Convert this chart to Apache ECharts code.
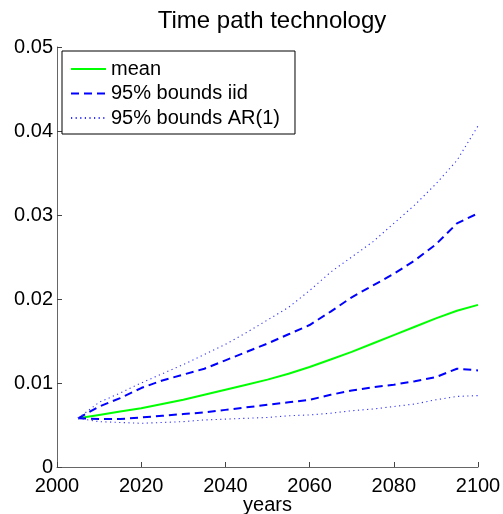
<!DOCTYPE html>
<html>
<head>
<meta charset="utf-8">
<script src="https://cdn.jsdelivr.net/npm/echarts@6/dist/echarts.min.js"></script>
<style>
  html, body { margin: 0; padding: 0; background: #fff; }
  #chart { width: 503px; height: 514px; }
</style>
</head>
<body>
<div id="chart"></div>
<script>
// Simulated technology level, five-year steps
const years = [2005, 2010, 2015, 2020, 2025, 2030, 2035, 2040, 2045, 2050,
               2055, 2060, 2065, 2070, 2075, 2080, 2085, 2090, 2095, 2100];

const meanPath = [0.0058, 0.0062, 0.0066, 0.0070, 0.0075, 0.0080, 0.0086, 0.0092, 0.0098, 0.0104,
                  0.0111, 0.0119, 0.0128, 0.0137, 0.0147, 0.0157, 0.0167, 0.0177, 0.0186, 0.0193];

const iidUpper = [0.0058, 0.0072, 0.0082, 0.0094, 0.0103, 0.0110, 0.0117, 0.0127, 0.0137, 0.0147,
                  0.0158, 0.0169, 0.0185, 0.0202, 0.0216, 0.0230, 0.0246, 0.0265, 0.0290, 0.0302];
const iidLower = [0.0058, 0.0057, 0.0057, 0.0059, 0.0061, 0.0063, 0.0065, 0.0068, 0.0071, 0.0074,
                  0.0077, 0.0080, 0.0086, 0.0091, 0.0095, 0.0098, 0.0102, 0.0107, 0.0117, 0.0115];

const arUpper = [0.0058, 0.0077, 0.0088, 0.0100, 0.0111, 0.0122, 0.0134, 0.0146, 0.0160, 0.0175,
                 0.0190, 0.0210, 0.0232, 0.0250, 0.0268, 0.0290, 0.0312, 0.0337, 0.0365, 0.0406];
const arLower = [0.0058, 0.0054, 0.0053, 0.0052, 0.0053, 0.0054, 0.0056, 0.0057, 0.0058, 0.0059,
                 0.0061, 0.0062, 0.0064, 0.0067, 0.0069, 0.0072, 0.0075, 0.0080, 0.0084, 0.0085];

const xTicks = { min: 2000, max: 2100, step: 20 };
const yTicks = { min: 0, max: 0.05, step: 0.01 };

const seriesNames = ['mean', '95% bounds iid', '95% bounds AR(1)'];

const FONT = '"Liberation Sans", Arial, Helvetica, sans-serif';
const pairs = arr => years.map((y, i) => [y, arr[i]]);

const meanStyle = { color: '#00ff00', width: 2, type: 'solid' };
const iidStyle  = { color: '#0000ff', width: 2, type: [8, 5] };
const arStyle   = { color: '#3333ff', width: 1.1, type: [1.2, 3.4] };

function line(name, data, style) {
  return {
    name, type: 'line', data: pairs(data),
    symbol: 'none', smooth: false, silent: true,
    lineStyle: style, itemStyle: { color: style.color },
    emphasis: { disabled: true }
  };
}

const chart = echarts.init(document.getElementById('chart'), null, { renderer: 'canvas' });

chart.setOption({
  backgroundColor: '#ffffff',
  animation: false,
  title: {
    text: 'Time path technology',
    left: 267, textAlign: 'center', top: 4,
    textStyle: { fontFamily: FONT, fontSize: 24, fontWeight: 'normal', color: '#000' }
  },
  grid: { left: 57, right: 25, top: 47, bottom: 47, containLabel: false, outerBoundsMode: 'none' },
  legend: {
    data: seriesNames,
    orient: 'vertical',
    left: 62, top: 51,
    padding: [7, 15, 5, 8],
    itemWidth: 35, itemHeight: 14, itemGap: 2.5,
    borderColor: '#000', borderWidth: 1,
    backgroundColor: '#fff',
    selectedMode: false,
    itemStyle: { opacity: 0 },
    textStyle: { fontFamily: FONT, fontSize: 20, color: '#000', lineHeight: 22 }
  },
  xAxis: {
    type: 'value', min: xTicks.min, max: xTicks.max, interval: xTicks.step,
    name: 'years', nameLocation: 'middle', nameGap: 28, nameMoveOverlap: false,
    nameTextStyle: { fontFamily: FONT, fontSize: 20, color: '#000', verticalAlign: 'top', lineHeight: 20 },
    axisLine: { show: true, lineStyle: { color: '#666', width: 1 } },
    axisTick: { show: true, inside: true, length: 5, lineStyle: { color: '#444' } },
    axisLabel: { fontFamily: FONT, fontSize: 20, color: '#000', margin: 9,
                 formatter: v => String(v) },
    splitLine: { show: false }
  },
  yAxis: {
    type: 'value', min: yTicks.min, max: yTicks.max, interval: yTicks.step,
    axisLine: { show: true, lineStyle: { color: '#666', width: 1 } },
    axisTick: { show: true, inside: true, length: 5, lineStyle: { color: '#444' } },
    axisLabel: { fontFamily: FONT, fontSize: 20, color: '#000', margin: 4 },
    splitLine: { show: false }
  },
  series: [
    line(seriesNames[0], meanPath, meanStyle),
    line(seriesNames[1], iidUpper, iidStyle),
    line(seriesNames[1], iidLower, iidStyle),
    line(seriesNames[2], arUpper, arStyle),
    line(seriesNames[2], arLower, arStyle)
  ]
});
</script>
</body>
</html>
